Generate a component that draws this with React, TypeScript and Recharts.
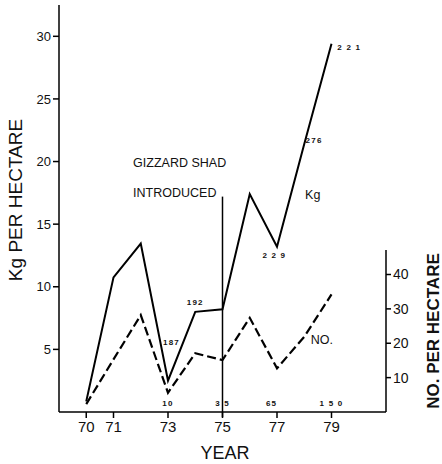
import React from 'react';
import { LineChart, Line, XAxis, YAxis, ReferenceLine, ReferenceDot } from 'recharts';

const years = [70, 71, 72, 73, 74, 75, 76, 77, 78, 79];
const kgPerHectare = [0.85, 10.75, 13.45, 2.5, 8.0, 8.2, 17.4, 13.2, 21.4, 29.4];
const noPerHectare = [2.3, 15.3, 28.2, 5.6, 17.1, 15.1, 27.4, 12.7, 21.9, 34.2];

const yearTicks = [70, 71, 73, 75, 77, 79];
const kgTicks = [5, 10, 15, 20, 25, 30];
const noTicks = [10, 20, 30, 40];

// small sample-size numbers printed beside the lines (placed in Kg units)
const sampleNotes = [
    { year: 73.13, kg: 5.6, text: '187' },
    { year: 74.0, kg: 8.8, text: '192' },
    { year: 76.9, kg: 12.5, text: '2 2 9' },
    { year: 78.36, kg: 21.7, text: '276' },
    { year: 79.65, kg: 29.15, text: '2 2 1' },
    { year: 73.0, kg: 0.72, text: '10' },
    { year: 75.0, kg: 0.72, text: '3 5' },
    { year: 76.8, kg: 0.72, text: '65' },
    { year: 79.0, kg: 0.72, text: '1 5 0' },
];

const textNotes = [
    { year: 71.72, kg: 19.9, text: 'GIZZARD SHAD' },
    { year: 71.72, kg: 17.5, text: 'INTRODUCED' },
    { year: 78.03, kg: 17.33, text: 'Kg' },
    { year: 78.24, kg: 5.75, text: 'NO.' },
];

const data = years.map((year, i) => ({
    year,
    kg: kgPerHectare[i],
    no: noPerHectare[i],
}));

const FONT = '"Liberation Sans", Arial, sans-serif';

const App: React.FC = () => {
    return (
        <div style={{ position: 'absolute', left: 0, top: 0, fontFamily: FONT }}>
            <LineChart
                width={442}
                height={464}
                data={data}
                margin={{ top: 5, right: 0, bottom: 0, left: 0 }}
                style={{ fontFamily: FONT }}
            >
                <XAxis
                    dataKey="year"
                    type="number"
                    domain={[69, 81]}
                    ticks={yearTicks}
                    interval={0}
                    height={52}
                    tickSize={6}
                    tickMargin={3}
                    axisLine={{ stroke: '#000', strokeWidth: 1.5 }}
                    tickLine={{ stroke: '#000', strokeWidth: 1.5 }}
                    tick={{ fill: '#111', fontSize: 15 }}
                    label={{
                        content: ({ viewBox }: any) => (
                            <text x={225} y={viewBox.y + 47} textAnchor="middle" fontSize={18} fill="#111">
                                YEAR
                            </text>
                        ),
                    }}
                />
                <YAxis
                    yAxisId="kg"
                    domain={[0, 32.5]}
                    ticks={kgTicks}
                    interval={0}
                    width={59}
                    tickSize={6}
                    tickMargin={2}
                    axisLine={{ stroke: '#000', strokeWidth: 1.5 }}
                    tickLine={{ stroke: '#000', strokeWidth: 1.5 }}
                    tick={{ fill: '#111', fontSize: 13 }}
                    label={{
                        content: () => (
                            <text
                                x={22}
                                y={200}
                                transform="rotate(-90 22 200)"
                                textAnchor="middle"
                                fontSize={19}
                                fill="#111"
                            >
                                Kg PER HECTARE
                            </text>
                        ),
                    }}
                />
                <YAxis
                    yAxisId="no"
                    orientation="right"
                    domain={[0, 118.4]}
                    ticks={noTicks}
                    interval={0}
                    width={56}
                    tickSize={5}
                    tickMargin={2}
                    axisLine={false}
                    tickLine={{ stroke: '#000', strokeWidth: 1.5 }}
                    tick={{ fill: '#111', fontSize: 14 }}
                    label={{
                        content: () => (
                            <text
                                x={439}
                                y={331}
                                transform="rotate(-90 439 331)"
                                textAnchor="middle"
                                fontSize={17}
                                fontWeight="bold"
                                fill="#111"
                            >
                                NO. PER HECTARE
                            </text>
                        ),
                    }}
                />
                {/* right axis only runs up to ~47 */}
                <ReferenceLine
                    yAxisId="no"
                    segment={[{ x: 81, y: 0 }, { x: 81, y: 47.1 }]}
                    stroke="#000"
                    strokeWidth={1.5}
                    ifOverflow="visible"
                />
                {/* gizzard shad introduced in 1975 */}
                <ReferenceLine
                    yAxisId="kg"
                    segment={[{ x: 75, y: -0.4 }, { x: 75, y: 17.2 }]}
                    stroke="#000"
                    strokeWidth={1.5}
                    ifOverflow="visible"
                />
                <Line
                    yAxisId="kg"
                    dataKey="kg"
                    stroke="#000"
                    strokeWidth={2}
                    dot={false}
                    isAnimationActive={false}
                />
                <Line
                    yAxisId="no"
                    dataKey="no"
                    stroke="#000"
                    strokeWidth={2.2}
                    strokeDasharray="9 4"
                    dot={false}
                    isAnimationActive={false}
                />
                {sampleNotes.map((n) => (
                    <ReferenceDot
                        key={n.text + n.year}
                        yAxisId="kg"
                        x={n.year}
                        y={n.kg}
                        r={0}
                        fill="none"
                        stroke="none"
                        label={{
                            content: ({ viewBox }: any) => (
                                <text
                                    x={viewBox.x}
                                    y={viewBox.y}
                                    dy="0.35em"
                                    textAnchor="middle"
                                    fontSize={8}
                                    fontWeight="bold"
                                    letterSpacing={1.2}
                                    fill="#111"
                                >
                                    {n.text}
                                </text>
                            ),
                        }}
                    />
                ))}
                {textNotes.map((n) => (
                    <ReferenceDot
                        key={n.text}
                        yAxisId="kg"
                        x={n.year}
                        y={n.kg}
                        r={0}
                        fill="none"
                        stroke="none"
                        label={{
                            content: ({ viewBox }: any) => (
                                <text
                                    x={viewBox.x}
                                    y={viewBox.y}
                                    dy="0.35em"
                                    textAnchor="start"
                                    fontSize={12.5}
                                    fill="#111"
                                >
                                    {n.text}
                                </text>
                            ),
                        }}
                    />
                ))}
            </LineChart>
        </div>
    );
};

export default App;
